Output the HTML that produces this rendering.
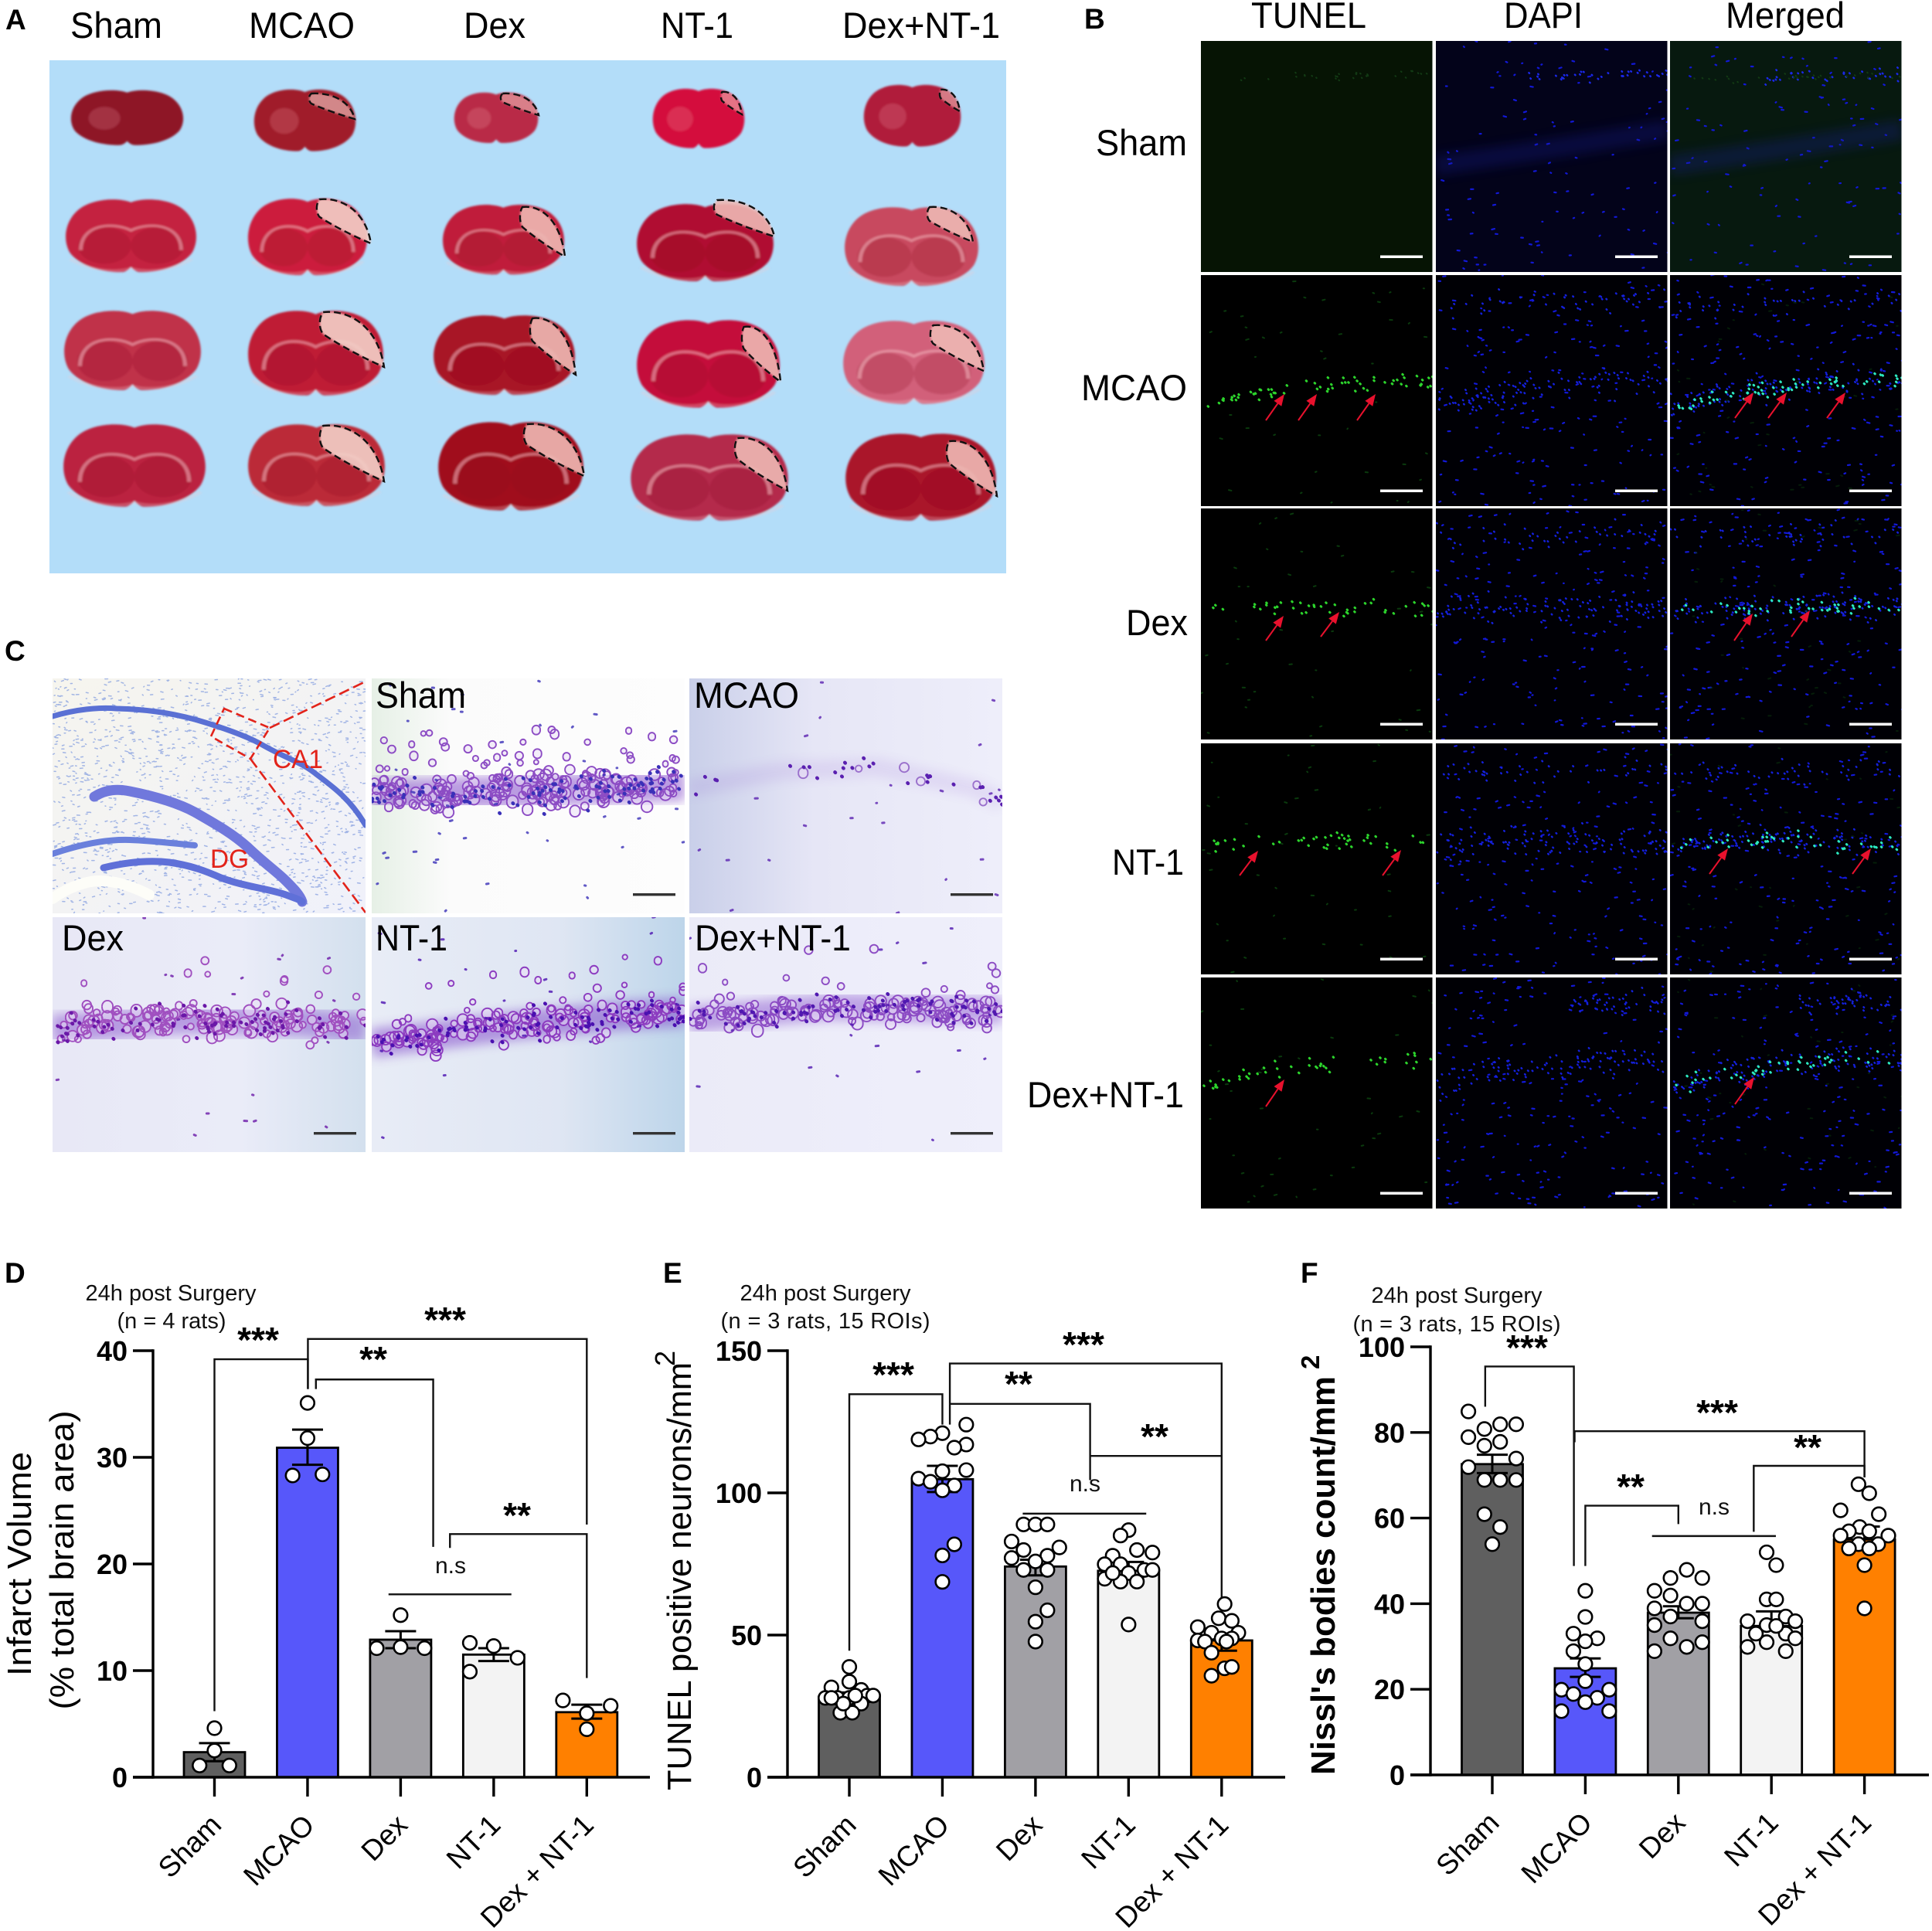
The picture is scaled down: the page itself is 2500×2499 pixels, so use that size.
<!DOCTYPE html>
<html lang="en">
<head>
<meta charset="utf-8">
<title>Multi-panel figure: infarct, TUNEL and Nissl staining</title>
<style>
html,body{margin:0;padding:0;background:#fff;}
svg#fig{display:block;width:2500px;height:2499px;}
text{font-family:"Liberation Sans",sans-serif;fill:#000;}
.pl{font-weight:bold;font-size:37px;}
.hd{font-size:47px;}
.sm{font-size:29px;text-anchor:middle;fill:#111;}
.st{font-size:46px;font-weight:bold;text-anchor:middle;}
.ns{font-size:30px;text-anchor:middle;fill:#111;}
.yt{font-size:44px;text-anchor:middle;}
</style>
</head>
<body>
<svg id="fig" xmlns="http://www.w3.org/2000/svg" width="2500" height="2499" viewBox="0 0 2500 2499">
<defs>
<filter id="soft" x="-20%" y="-20%" width="140%" height="140%"><feGaussianBlur stdDeviation="1.4"/></filter>
<filter id="softer" x="-20%" y="-100%" width="140%" height="300%"><feGaussianBlur stdDeviation="7"/></filter>
<linearGradient id="bgSham" x1="0" x2="1" y1="0" y2="0"><stop offset="0" stop-color="#e6f0e6"/><stop offset=".25" stop-color="#fbfbfb"/><stop offset="1" stop-color="#fdfdfd"/></linearGradient>
<linearGradient id="bgMcao" x1="0" x2="1" y1="0" y2="0"><stop offset="0" stop-color="#c9cfe9"/><stop offset=".4" stop-color="#e6e6f6"/><stop offset="1" stop-color="#eeeefa"/></linearGradient>
<linearGradient id="bgDex" x1="0" x2="1" y1="0" y2="0"><stop offset="0" stop-color="#e8e8f6"/><stop offset=".6" stop-color="#eaecf8"/><stop offset="1" stop-color="#d3e0ee"/></linearGradient>
<linearGradient id="bgNt" x1="0" x2="1" y1="0" y2="0"><stop offset="0" stop-color="#e8ecf6"/><stop offset=".6" stop-color="#dfe6f3"/><stop offset="1" stop-color="#bdd5ea"/></linearGradient>
<linearGradient id="bgCombo" x1="0" x2="1" y1="0" y2="0"><stop offset="0" stop-color="#ebebf8"/><stop offset="1" stop-color="#efeffb"/></linearGradient>
<linearGradient id="bgOver" x1="0" x2="1" y1="0" y2="1"><stop offset="0" stop-color="#f6f5ee"/><stop offset="1" stop-color="#f0f1fa"/></linearGradient>
</defs>

<text class="pl" x="7" y="38">A</text>
<text class="pl" x="1403" y="37">B</text>
<text class="pl" x="6" y="855">C</text>
<text class="pl" x="6" y="1660">D</text>
<text class="pl" x="858" y="1660">E</text>
<text class="pl" x="1683" y="1660">F</text>

<rect x="64" y="78" width="1238" height="664" fill="#b3ddf9"/>
<text class="hd" x="91" y="49" textLength="119" lengthAdjust="spacingAndGlyphs">Sham</text>
<text class="hd" x="322" y="49" textLength="137" lengthAdjust="spacingAndGlyphs">MCAO</text>
<text class="hd" x="600" y="49" textLength="80" lengthAdjust="spacingAndGlyphs">Dex</text>
<text class="hd" x="855" y="49" textLength="94" lengthAdjust="spacingAndGlyphs">NT-1</text>
<text class="hd" x="1090" y="49" textLength="204" lengthAdjust="spacingAndGlyphs">Dex+NT-1</text>
<g id="brains"></g>

<g id="fluor"></g>
<text class="hd" x="1619" y="36" textLength="149" lengthAdjust="spacingAndGlyphs">TUNEL</text>
<text class="hd" x="1946" y="36" textLength="102" lengthAdjust="spacingAndGlyphs">DAPI</text>
<text class="hd" x="2233" y="36" textLength="154" lengthAdjust="spacingAndGlyphs">Merged</text>
<text class="hd" x="1418" y="201" textLength="118" lengthAdjust="spacingAndGlyphs">Sham</text>
<text class="hd" x="1399" y="518" textLength="137" lengthAdjust="spacingAndGlyphs">MCAO</text>
<text class="hd" x="1457" y="822" textLength="80" lengthAdjust="spacingAndGlyphs">Dex</text>
<text class="hd" x="1439" y="1132" textLength="93" lengthAdjust="spacingAndGlyphs">NT-1</text>
<text class="hd" x="1329" y="1433" textLength="203" lengthAdjust="spacingAndGlyphs">Dex+NT-1</text>

<g id="nissl"></g>
<text class="hd" x="486" y="916" textLength="117" lengthAdjust="spacingAndGlyphs">Sham</text>
<text class="hd" x="898" y="916" textLength="136" lengthAdjust="spacingAndGlyphs">MCAO</text>
<text class="hd" x="80" y="1230" textLength="80" lengthAdjust="spacingAndGlyphs">Dex</text>
<text class="hd" x="486" y="1230" textLength="93" lengthAdjust="spacingAndGlyphs">NT-1</text>
<text class="hd" x="899" y="1230" textLength="202" lengthAdjust="spacingAndGlyphs">Dex+NT-1</text>
<text x="353" y="994" font-size="34" style="fill:#e2231a" textLength="65" lengthAdjust="spacingAndGlyphs">CA1</text>
<text x="272" y="1123" font-size="34" style="fill:#e2231a" textLength="50" lengthAdjust="spacingAndGlyphs">DG</text>

<g id="chartD"></g>
<text class="sm" x="221" y="1683" textLength="221">24h post Surgery</text>
<text class="sm" x="222" y="1719" textLength="141">(n = 4 rats)</text>
<text class="yt" transform="translate(40,2024) rotate(-90)" textLength="290" lengthAdjust="spacingAndGlyphs">Infarct Volume</text>
<text class="yt" transform="translate(95,2019) rotate(-90)" textLength="387" lengthAdjust="spacingAndGlyphs">(% total brain area)</text>
<text class="st" x="334" y="1750">***</text>
<text class="st" x="576" y="1724">***</text>
<text class="st" x="483" y="1775">**</text>
<text class="st" x="669" y="1977">**</text>
<text class="ns" x="583" y="2036">n.s</text>

<g id="chartE"></g>
<text class="sm" x="1068" y="1683" textLength="221">24h post Surgery</text>
<text class="sm" x="1068" y="1719" textLength="271">(n = 3 rats, 15 ROIs)</text>
<text class="yt" transform="translate(894,2040) rotate(-90)" textLength="554" lengthAdjust="spacingAndGlyphs">TUNEL positive neurons/mm</text>
<text transform="translate(873,1768) rotate(-90)" font-size="36">2</text>
<text class="st" x="1156" y="1795">***</text>
<text class="st" x="1402" y="1756">***</text>
<text class="st" x="1318" y="1807">**</text>
<text class="st" x="1494" y="1875">**</text>
<text class="ns" x="1404" y="1930">n.s</text>

<g id="chartF"></g>
<text class="sm" x="1885" y="1686" textLength="221">24h post Surgery</text>
<text class="sm" x="1885" y="1723" textLength="269">(n = 3 rats, 15 ROIs)</text>
<text class="yt" transform="translate(1727,2039) rotate(-90)" style="font-weight:bold" textLength="516" lengthAdjust="spacingAndGlyphs">Nissl's bodies count/mm</text>
<text transform="translate(1707,1772) rotate(-90)" font-size="33" font-weight="bold">2</text>
<text class="st" x="1976" y="1760">***</text>
<text class="st" x="2222" y="1844">***</text>
<text class="st" x="2110" y="1940">**</text>
<text class="st" x="2339" y="1889">**</text>
<text class="ns" x="2218" y="1960">n.s</text>
</svg>

<script>
/* ---------- chart data ---------- */
const categories = ['Sham', 'MCAO', 'Dex', 'NT-1', 'Dex + NT-1'];
const barColors = ['#5f5f5f', '#5757fa', '#a1a0a5', '#f3f3f3', '#ff8000'];

const infarctTicks = [0, 10, 20, 30, 40];
const infarctMeans = [2.35, 30.9, 12.9, 11.5, 6.1];
const infarctErrHigh = [3.2, 32.6, 13.7, 12.1, 6.8];
const infarctErrLow = [1.5, 29.3, 12.1, 10.9, 5.5];
const infarctValues = [
  [4.6, 2.5, 1.1, 1.1],
  [35.1, 31.8, 28.3, 28.4],
  [15.2, 12.2, 12.1, 12.1],
  [12.6, 12.3, 11.2, 9.9],
  [7.2, 6.7, 6.0, 4.5]
];
/* swarm column of each dot (signed column number beside the bar centre) */
const infarctSwarm = [
  [0, 0, -1.25, 1.25],
  [0, 0, -1.25, 1.25],
  [0, 0, -2, 2],
  [-2, 0, 2, -2],
  [-2, 2, 0, 0]
];
/* significance brackets: [from category, to category, top value, left foot value, right foot value] */
const infarctBrackets = [
  [0, 1.004, 39.2, 6.2, 36.4],
  [1.004, 4, 41.1, 36.4, 23.7],
  [1.09, 2.35, 37.3, 36.4, 21.6],
  [1.87, 3.19, 17.15, 17.15, 17.15],
  [2.53, 4, 22.8, 21.5, 9.3]
];

const tunelTicks = [0, 50, 100, 150];
const tunelMeans = [28.2, 104.8, 74.1, 72.6, 48.1];
const tunelErrHigh = [29.8, 109.5, 76.5, 75.7, 49.2];
const tunelErrLow = [26.6, 100.3, 71, 70.3, 44.5];
const tunelValues = [
  [38.8, 33.6, 31.6, 30.7, 27.9, 27.9, 28.7, 28.7, 27.9, 25.9, 22.7, 22.7, 25.9, 27.9, 28.7],
  [124, 121, 119.8, 118.8, 117, 115.9, 108, 107.6, 105, 103.9, 102.6, 100.9, 81.9, 78, 68.7],
  [88.9, 88.9, 88.9, 82.9, 80.8, 79.9, 77.1, 77.9, 75.9, 72.9, 72.9, 66.8, 58.7, 54.7, 47.7],
  [86.9, 85, 79.9, 79, 77.9, 74.9, 74.9, 72.9, 72.9, 71.8, 69.8, 68.8, 68.8, 53.7, 71.8],
  [60.9, 55.9, 55, 52.8, 50.8, 50.8, 48.1, 48.8, 48.8, 47.7, 43.8, 38.3, 38.8, 35.7, 47.7]
];
const tunelSwarm = [
  [0, 0, -1.5, 1, -2, -1, 1.5, 2, 0, 1, -0.75, 0.25, -0.5, -1.5, 0.5],
  [2, 0, -1, -2, 2, 1, 2, 0, -2, -1, 1, 0, 1, 0, 0],
  [-1, 0, 1, -2, 2, -1, -2, 1, 0, -1, 1, 0, 1, 0, 0],
  [0, -0.67, 0.7, 2, -1.33, -2, -0.67, 1.33, 2, 0, -2, -0.67, 0.7, 0, -1.33],
  [0.25, -0.25, 0.85, -2, -0.85, 1.4, -2, 0, 0.85, -1.4, -0.85, 0.25, 0.85, -0.85, 0.4]
];
const tunelBrackets = [
  [0, 1, 134.7, 44.5, 124],
  [1.08, 4, 145.5, 124, 63.2],
  [1.08, 2.587, 131.3, 131.3, 104.5],
  [2.587, 4, 113, 113, 113],
  [1.863, 3.19, 92.7, 92.7, 92.7]
];

const nisslTicks = [0, 20, 40, 60, 80, 100];
const nisslMeans = [72.6, 24.9, 37.9, 34.8, 55];
const nisslErrHigh = [74.8, 27.2, 39.4, 38.2, 58];
const nisslErrLow = [70.5, 22.9, 36.6, 34.3, 53.7];
const nisslValues = [
  [84.9, 81.9, 81.9, 80.8, 78.9, 77.8, 76.9, 73.9, 71.9, 68.9, 68.9, 68.9, 60.9, 57.9, 53.9],
  [43, 36.9, 33, 31.9, 31.2, 28.9, 25.9, 21.9, 19.9, 19.9, 18.9, 18, 17, 14.9, 14.9],
  [47.9, 46, 46, 43, 41.9, 40, 40, 38.9, 37, 35, 35.9, 31.9, 31, 29.9, 28.9],
  [52, 49, 41, 41, 35.9, 37, 35.9, 35, 33, 33, 31.9, 31, 29.9, 28.9, 34.8],
  [67.9, 65.8, 61.8, 60.9, 57.9, 56.9, 56.9, 55.9, 55.9, 53.9, 53.9, 52.9, 52.9, 49, 38.9]
];
const nisslSwarm = [
  [-2, 2, 0.66, -0.66, -2, 0.66, -0.66, 2, -2, -0.66, 0.66, 2, -0.66, 0.66, 0],
  [0, 0, -1, 1, 0, -1, 0, 0, -2, 2, -1, 1, 0, -2, 2],
  [0.7, -0.66, 2, -2, -0.66, 0.7, 2, -2, -0.66, -2, 2, -0.66, 2, 0.7, -2],
  [-0.4, 0.4, -0.4, 0.4, -2, 1.2, 2, -0.4, -1.3, 1.2, 2, -0.4, -2, 1.2, 0.4],
  [-0.5, 0.4, -2, 1.2, -0.4, -1.3, 0.4, -2, 2, -0.5, 1.15, -1.3, 0.4, 0, 0]
];
const nisslBrackets = [
  [-0.076, 0.877, 95.4, 86, 48.8],
  [0.885, 4, 80.3, 77.7, 69.5],
  [1, 2, 62.9, 48.8, 58.6],
  [2.81, 4, 72.2, 56.8, 69.5],
  [1.717, 3.048, 55.8, 55.8, 55.8]
];

/* ---------- helpers ---------- */
const NS = 'http://www.w3.org/2000/svg';
function el(tag, attrs, parent) {
  const n = document.createElementNS(NS, tag);
  for (const k in attrs) n.setAttribute(k, attrs[k]);
  parent.appendChild(n);
  return n;
}
let seed = 20240611;
function rnd() { seed = (Math.imul(seed, 1664525) + 1013904223) >>> 0; return seed / 4294967296; }
function gauss() { return (rnd() + rnd() + rnd() - 1.5) / 1.5; }
function bandY(poly, t) {
  for (let i = 1; i < poly.length; i++) {
    if (t <= poly[i][0]) {
      const a = poly[i - 1], b = poly[i];
      return a[1] + (b[1] - a[1]) * (t - a[0]) / (b[0] - a[0]);
    }
  }
  return poly[poly.length - 1][1];
}
function dotsPath(parent, pts, color, width, name, opacity) {
  let d = '';
  pts.forEach(function (p) { d += 'M' + p[0].toFixed(1) + ' ' + p[1].toFixed(1) + 'l' + (p[2] || 0.6) + ' ' + (p[3] || 0); });
  const path = el('path', { d: d, stroke: color, 'stroke-width': width, 'stroke-linecap': 'round', fill: 'none', opacity: opacity || 1 }, parent);
  
  
  return path;
}
function scatterPts(n, w, h) {
  const a = [];
  for (let i = 0; i < n; i++) a.push([rnd() * w, rnd() * h, 0.6 + rnd() * 3, rnd() * 2 - 1]);
  return a;
}
function bandPts(n, poly, w, spread, x0, x1) {
  const a = [];
  const s = x0 === undefined ? 0 : x0, e = x1 === undefined ? 1 : x1;
  for (let i = 0; i < n; i++) {
    const t = s + rnd() * (e - s);
    a.push([t * w, bandY(poly, t) + gauss() * spread, 0.6, 0.6]);
  }
  return a;
}

/* ---------- bar charts ---------- */
function drawChart(cfg) {
  const root = document.getElementById(cfg.root);
  const xScale = function (i) { return cfg.firstX + cfg.step * i; };
  const yScale = function (v) { return cfg.y0 - (cfg.y0 - cfg.yTop) * v / cfg.yMax; };
  const black = '#000';

  cfg.means.forEach(function (m, i) {
    const bar = el('rect', { x: xScale(i) - 39.5, y: yScale(m), width: 79, height: yScale(0) - yScale(m), fill: barColors[i], stroke: black, 'stroke-width': 2.8 }, root);
    
    
  });

  cfg.means.forEach(function (m, i) {
    const d = 'M' + (xScale(i) - 20) + ' ' + yScale(cfg.hi[i]) + 'h40M' + (xScale(i) - 20) + ' ' + yScale(cfg.lo[i]) + 'h40M' + xScale(i) + ' ' + yScale(cfg.hi[i]) + 'V' + yScale(cfg.lo[i]);
    const err = el('path', { d: d, stroke: black, 'stroke-width': 3, fill: 'none' }, root);
    
    
  });

  const axisPath = 'M' + cfg.axisX + ' ' + cfg.yTop + 'V' + cfg.y0;
  const yAxis = el('path', { d: axisPath, stroke: black, 'stroke-width': 3.4, fill: 'none', 'stroke-linecap': 'square' }, root);
  
  
  const xAxis = el('line', { x1: cfg.axisX - 26, x2: cfg.xEnd, y1: cfg.y0, y2: cfg.y0, stroke: black, 'stroke-width': 3.4 }, root);
  
  

  cfg.ticks.forEach(function (t) {
    const tick = el('line', { x1: cfg.axisX - 26, x2: cfg.axisX, y1: yScale(t), y2: yScale(t), stroke: black, 'stroke-width': 3.4 }, root);
    
    
    const lab = el('text', { x: cfg.labelRight, y: yScale(t) + 13, 'text-anchor': 'end', 'font-size': 36, 'font-weight': 'bold' }, root);
    lab.textContent = String(t);
    
    
  });

  categories.forEach(function (c, i) {
    const x = xScale(i);
    const tick = el('line', { x1: x, x2: x, y1: cfg.y0, y2: cfg.y0 + 25, stroke: black, 'stroke-width': 3.4 }, root);
    
    
    const ax = x + 11, ay = cfg.y0 + 64;
    const lab = el('text', { x: ax, y: ay, 'text-anchor': 'end', 'font-size': 37, transform: 'rotate(-45 ' + ax + ' ' + ay + ')' }, root);
    lab.textContent = c;
    
    
  });

  cfg.brackets.forEach(function (b) {
    const x1 = xScale(b[0]), x2 = xScale(b[1]);
    const d = 'M' + x1 + ' ' + yScale(b[3]) + 'V' + yScale(b[2]) + 'H' + x2 + 'V' + yScale(b[4]);
    const br = el('path', { d: d, stroke: '#111', 'stroke-width': 2.4, fill: 'none' }, root);
    
    
  });

  cfg.values.forEach(function (group, i) {
    group.forEach(function (v, j) {
      const dot = el('circle', { cx: xScale(i) + cfg.swarm[i][j] * 15.45, cy: yScale(v), r: 8.8, fill: '#fff', stroke: black, 'stroke-width': 2.6 }, root);
      
      
    });
  });
}

drawChart({ root: 'chartD', firstX: 277.5, step: 120.45, axisX: 198, xEnd: 841, y0: 2300, yTop: 1748, yMax: 40, labelRight: 165,
  ticks: infarctTicks, means: infarctMeans, hi: infarctErrHigh, lo: infarctErrLow, values: infarctValues, swarm: infarctSwarm, brackets: infarctBrackets });
drawChart({ root: 'chartE', firstX: 1099, step: 120.45, axisX: 1019, xEnd: 1663, y0: 2300, yTop: 1748, yMax: 150, labelRight: 986,
  ticks: tunelTicks, means: tunelMeans, hi: tunelErrHigh, lo: tunelErrLow, values: tunelValues, swarm: tunelSwarm, brackets: tunelBrackets });
drawChart({ root: 'chartF', firstX: 1931, step: 120.4, axisX: 1851, xEnd: 2496, y0: 2297, yTop: 1743, yMax: 100, labelRight: 1818,
  ticks: nisslTicks, means: nisslMeans, hi: nisslErrHigh, lo: nisslErrLow, values: nisslValues, swarm: nisslSwarm, brackets: nisslBrackets });

/* ---------- panel A: brain slices (illustrative shapes) ---------- */
const brainBoxes = [
  [[91,116,238,190],[328,115,461,198],[587,119,697,187],[844,114,964,194],[1117,109,1244,192]],
  [[84,257,255,355],[320,256,476,359],[572,264,731,358],[823,263,1002,367],[1092,267,1267,373]],
  [[82,401,261,508],[320,401,497,515],[560,407,745,514],[823,413,1010,531],[1090,414,1275,526]],
  [[81,548,267,659],[320,548,499,658],[566,545,756,664],[815,561,1021,677],[1093,560,1290,677]]
];
const brainTints = [
  ['#8e1226','#a01a2a','#b92c46','#d4103c','#b01c3a'],
  ['#c4223f','#cc1f3d','#c01f3a','#b01030','#c8485e'],
  ['#c0304a','#bf1b36','#a81426','#c4103a','#d2607a'],
  ['#bb2240','#bb2a38','#a0101e','#b42a4c','#aa142a']
];
const infarctBoxes = [
  [null,[400,121,459,154],[648,121,697,149],[933,119,960,148],[1216,116,1242,144]],
  [null,[410,258,480,315],[673,268,731,332],[924,259,1002,306],[1200,268,1259,313]],
  [null,[414,404,497,475],[686,412,745,485],[960,423,1010,494],[1204,421,1273,480]],
  [null,[414,551,497,623],[678,549,756,616],[951,567,1019,635],[1225,571,1290,642]]
];
const brainOutline = 'M.5 .05C.4 -.02 .2 0 .1 .15C0 .3 -.02 .55 .04 .72C.12 .9 .3 .98 .44 .97C.47 .96 .49 .92 .5 .9C.51 .92 .53 .96 .56 .97C.7 .98 .88 .9 .96 .72C1.02 .55 1 .3 .9 .15C.8 0 .6 -.02 .5 .05Z';
const brainsRoot = document.getElementById('brains');
brainBoxes.forEach(function (row, r) {
  row.forEach(function (b, c) {
    const w = b[2] - b[0], h = b[3] - b[1];
    const soft = el('g', { filter: 'url(#soft)' }, brainsRoot);
    
    
    const g = el('g', { transform: 'translate(' + b[0] + ' ' + b[1] + ') scale(' + w + ' ' + h + ')' }, soft);
    el('path', { d: brainOutline, fill: brainTints[r][c] }, g);
    if (r > 0) {
      el('ellipse', { cx: .3, cy: .62, rx: .2, ry: .24, fill: '#8a0a22', opacity: .22 }, g);
      el('ellipse', { cx: .7, cy: .62, rx: .2, ry: .24, fill: '#8a0a22', opacity: .22 }, g);
      el('path', { d: 'M.12 .68C.12 .34 .36 .3 .5 .42C.64 .3 .88 .34 .88 .68', fill: 'none', stroke: '#f4b8c0', 'stroke-opacity': .55, 'stroke-width': .028 }, g);
      el('path', { d: 'M.04 .8C.2 .96 .4 .98 .5 .92C.6 .98 .8 .96 .96 .8', fill: 'none', stroke: '#f6c8cc', 'stroke-opacity': .3, 'stroke-width': .03 }, g);
    } else {
      el('ellipse', { cx: .3, cy: .5, rx: .14, ry: .2, fill: '#f0a0a8', opacity: .22 }, g);
    }
    const inf = infarctBoxes[r][c];
    if (inf) {
      const fx = inf[2] - inf[0], fy = inf[3] - inf[1];
      const shape = 'M.05 0C.45 -.05 .9 .25 1 1C.7 .85 .3 .6 .05 .4C-.02 .3 -.02 .1 .05 0Z';
      const mat = 'translate(' + inf[0] + ' ' + inf[1] + ') scale(' + fx + ' ' + fy + ')';
      const wrap = el('g', {}, brainsRoot);
      
      
      const blurred = el('g', { filter: 'url(#soft)' }, wrap);
      el('path', { d: shape, transform: mat, fill: c === 1 ? '#f3cfc8' : '#eeb8b4', opacity: r === 0 ? .6 : .9 }, blurred);
      el('path', { d: shape, transform: mat, fill: 'none', stroke: '#111', 'stroke-width': 2.4, 'stroke-dasharray': '9 5', 'vector-effect': 'non-scaling-stroke' }, wrap);
    }
  });
});

/* ---------- panel B: fluorescence grid (illustrative texture) ---------- */
const fluorRowTops = [53, 356, 658, 962, 1265];
const fluorColLefts = [1554, 1858, 2161];
const fluorColNames = ['tunel', 'dapi', 'merged'];
const fluorBands = [
  [[0,161],[.5,140],[1,115]],
  [[0,169],[.15,160],[.4,146],[.7,140],[1,136]],
  [[0,128],[1,128]],
  [[0,131],[.5,124],[1,131]],
  [[0,142],[.25,122],[.6,112],[1,105]]
];
const fluorBgs = [['#061404','#03031a','#07190f'],['#000','#000005','#000005'],['#000','#000005','#000005'],['#000','#000005','#000005'],['#000','#000005','#000005']];
const fluorRoot = document.getElementById('fluor');
fluorRowTops.forEach(function (top, r) {
  fluorColLefts.forEach(function (left, c) {
    const cell = el('svg', { x: left, y: top, width: 299.5, height: 299 }, fluorRoot);
    
    
    el('rect', { x: 0, y: 0, width: 300, height: 299, fill: fluorBgs[r][c] }, cell);
    const band = fluorBands[r];
    if (c > 0) {
      dotsPath(cell, scatterPts(r === 0 ? 100 : 190, 300, 299), '#1218d8', 2.2, 'nuclei-scatter');
      if (r === 0) {
        const d = 'M0 ' + band[0][1] + 'Q150 ' + band[1][1] + ' 300 ' + band[2][1];
        const smear = el('path', { d: d, fill: 'none', stroke: '#141f90', 'stroke-width': 26, opacity: .3, filter: 'url(#softer)' }, cell);
        
        
        dotsPath(cell, bandPts(36, [[0,50],[1,42]], 300, 12, .4, 1), '#1a28e8', 2.4, 'upper-nuclei-band');
      } else {
        dotsPath(cell, bandPts(110, band, 300, 26), '#1420dc', 2.4, 'nuclei-band');
        dotsPath(cell, bandPts(45, [[0,38],[1,32]], 300, 24, r === 4 ? .55 : 0, 1), '#1420dc', 2.4, 'upper-nuclei-band');
      }
    }
    if (c !== 1) {
      if (r > 0) {
        dotsPath(cell, scatterPts(40, 300, 299), '#0a3a0d', 2, 'faint-signal', c === 2 ? .5 : 1);
        dotsPath(cell, bandPts(r === 1 ? 64 : 44, band, 300, 17), c === 2 ? '#2ce8c0' : '#2cd42c', 3, 'tunel-positive-band');
      } else {
        dotsPath(cell, bandPts(30, [[0,50],[1,42]], 300, 8, .1, 1), '#123a14', 2, 'faint-signal');
      }
    }
    const scale = el('rect', { x: 232, y: 277.5, width: 55, height: 3.5, fill: '#fff' }, cell);
    
    
  });
});
const fluorArrows = [
  [1638,544,1662,510],[1680,544,1704,510],[1756,544,1780,510],
  [2245,541,2269,508],[2288,541,2312,508],[2364,541,2388,508],
  [1638,829,1661,797],[1709,824,1733,792],[2244,829,2268,794],[2318,824,2342,790],
  [1604,1133,1628,1101],[1789,1133,1813,1100],[2212,1131,2236,1098],[2397,1131,2421,1098],
  [1638,1432,1662,1397],[2245,1429,2270,1394]
];
fluorArrows.forEach(function (a) {
  const dx = a[2] - a[0], dy = a[3] - a[1], len = Math.hypot(dx, dy), ux = dx / len, uy = dy / len;
  const bx = a[2] - ux * 15, by = a[3] - uy * 15;
  const g = el('g', {}, fluorRoot);
  
  
  el('line', { x1: a[0], y1: a[1], x2: bx, y2: by, stroke: '#e8112d', 'stroke-width': 2 }, g);
  el('polygon', { points: a[2] + ',' + a[3] + ' ' + (bx - uy * 6) + ',' + (by + ux * 6) + ' ' + (bx + uy * 6) + ',' + (by - ux * 6), fill: '#e8112d' }, g);
});

/* ---------- panel C: Nissl micrographs (illustrative texture) ---------- */
const nisslCells = [
  { x: 481, y: 878, bg: 'bgSham', band: [[0,151],[.5,146],[1,138]], spread: 24, n: 170, upper: 45, sparse: 45, ring: '#8c4cc4', blob: '#3a30b8', glow: .5 },
  { x: 892, y: 878, bg: 'bgMcao', band: [[0,142],[.29,120],[.6,115],[.91,142],[1,160]], spread: 14, n: 6, upper: 0, sparse: 22, ring: '#9a70cc', blob: '#5a20b0', glow: .1 },
  { x: 68, y: 1187, bg: 'bgDex', band: [[0,145],[.42,132],[.8,136],[1,145]], spread: 22, n: 130, upper: 12, sparse: 20, ring: '#a050c0', blob: '#6a18a8', glow: .45 },
  { x: 481, y: 1187, bg: 'bgNt', band: [[0,163],[.44,141],[.81,127],[1,123]], spread: 22, n: 140, upper: 22, sparse: 20, ring: '#8c3cc0', blob: '#4a10b0', glow: .5 },
  { x: 892, y: 1187, bg: 'bgCombo', band: [[0,132],[.45,116],[1,121]], spread: 20, n: 130, upper: 12, sparse: 20, ring: '#8c4cc4', blob: '#5018b0', glow: .42 }
];
const nisslRoot = document.getElementById('nissl');
nisslCells.forEach(function (c) {
  const cell = el('svg', { x: c.x, y: c.y, width: 405, height: 304 }, nisslRoot);
  
  
  el('rect', { x: 0, y: 0, width: 405, height: 304, fill: 'url(#' + c.bg + ')' }, cell);
  let line = '';
  for (let i = 0; i <= 20; i++) line += (i ? 'L' : 'M') + (i * 20.25) + ' ' + bandY(c.band, i / 20).toFixed(1);
  const glow = el('path', { d: line, fill: 'none', stroke: '#7a3cc8', 'stroke-width': c.spread * 1.7, opacity: c.glow, filter: 'url(#softer)' }, cell);
  
  
  let rings = '';
  for (let i = 0; i < c.n + c.upper; i++) {
    const t = rnd(), x = t * 405;
    const inBand = i < c.n;
    const y = bandY(c.band, t) + (inBand ? gauss() * c.spread * 1.5 : -15 - rnd() * 65);
    const rr = inBand ? 4 + rnd() * 3.5 : 3 + rnd() * 2.5;
    rings += 'M' + (x - rr).toFixed(1) + ' ' + y.toFixed(1) + 'a' + rr.toFixed(1) + ' ' + rr.toFixed(1) + ' 0 1 0 ' + (2 * rr).toFixed(1) + ' 0a' + rr.toFixed(1) + ' ' + rr.toFixed(1) + ' 0 1 0 ' + (-2 * rr).toFixed(1) + ' 0';
  }
  const ringPath = el('path', { d: rings, fill: '#e9def6', 'fill-opacity': .5, stroke: c.ring, 'stroke-width': 1.9 }, cell);
  
  
  dotsPath(cell, bandPts(Math.round(c.n * .5) + 26, c.band, 405, c.spread * 1.4), c.blob, 4.5, 'dark-neurons');
  dotsPath(cell, scatterPts(c.sparse, 405, 304), c.blob, 3, 'scattered-cells', .8);
  const scale = el('rect', { x: 338, y: 278, width: 55, height: 3.4, fill: '#333' }, cell);
  
  
});

const over = el('svg', { x: 68, y: 878, width: 405, height: 304 }, nisslRoot);


el('rect', { x: 0, y: 0, width: 405, height: 304, fill: 'url(#bgOver)' }, over);
dotsPath(over, scatterPts(1500, 405, 304), '#7f9ade', 1.5, 'overview-cell-speckle', .7);
const overviewBands = [
  ['M0 49C30 40 60 37 83 39C120 40 150 44 184 53C215 62 245 72 268 84C295 100 320 108 336 120C360 138 385 155 405 190', 7, '#5a70d4', 'ca1-band'],
  ['M54 153C70 143 85 143 100 146C130 152 160 160 184 173C210 188 232 200 252 218C275 240 290 250 302 262C312 272 320 280 323 289', 13, '#7078dc', 'dentate-gyrus-upper-blade'],
  ['M0 227C35 215 70 208 100 209C130 210 160 214 184 216', 8, '#6a80dc', 'dentate-gyrus-lower-left'],
  ['M66 245C95 238 125 235 151 238C180 242 200 250 218 258C250 270 280 272 302 280C312 284 320 286 323 289', 9, '#5f70d8', 'dentate-gyrus-lower-blade'],
  ['M0 285C20 270 45 262 60 262C85 262 105 270 125 280', 14, '#fdfdf8', 'white-matter-gap']
];
overviewBands.forEach(function (b) {
  const p = el('path', { d: b[0], fill: 'none', stroke: b[2], 'stroke-width': b[1], 'stroke-linecap': 'round' }, over);
  
  
});
const ca1Box = el('path', { d: 'M222 39L281 64L256 104L205 75Z', fill: 'none', stroke: '#e2231a', 'stroke-width': 2.6, 'stroke-dasharray': '11 6' }, over);


const leader = el('path', { d: 'M281 64L405 4M256 104L405 303', fill: 'none', stroke: '#e2231a', 'stroke-width': 2.6, 'stroke-dasharray': '14 6' }, over);


</script>
</body>
</html>
